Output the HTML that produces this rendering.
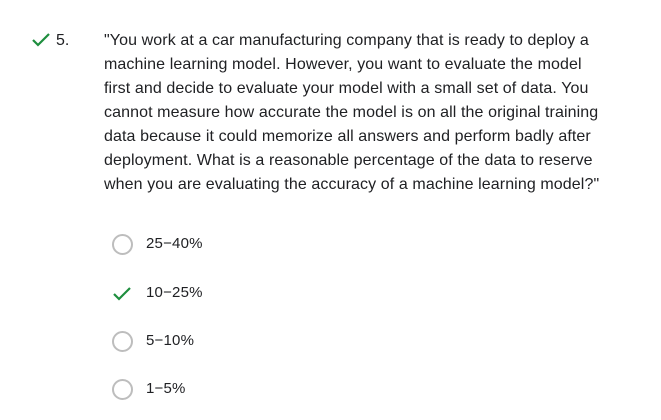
<!DOCTYPE html>
<html><head><meta charset="utf-8"><style>
body{margin:0;width:661px;height:420px;background:#fff;font-family:"Liberation Sans",Arial,sans-serif;color:#202124;position:relative;overflow:hidden}
.q{position:absolute;left:104px;top:29px;white-space:nowrap;font-size:16px;line-height:24px;letter-spacing:0.1px}
.num{position:absolute;left:56px;top:29px;font-size:16px;line-height:24px}
.chk{position:absolute}
.opt{position:absolute;left:146px;font-size:15px;line-height:20px;letter-spacing:0.2px}
.rad{position:absolute;left:112px;width:17px;height:17px;border:2px solid #bdbdbd;border-radius:50%}
</style></head><body>
<svg class="chk" style="left:31px;top:32px" width="20" height="16" viewBox="0 0 20 16"><path d="M2 8 L7 13 L18 2" stroke="#1e8e3e" stroke-width="2.2" fill="none"/></svg>
<div class="num">5.</div>
<div class="q">"You work at a car manufacturing company that is ready to deploy a<br>machine learning model. However, you want to evaluate the model<br>first and decide to evaluate your model with a small set of data. You<br>cannot measure how accurate the model is on all the original training<br>data because it could memorize all answers and perform badly after<br>deployment. What is a reasonable percentage of the data to reserve<br>when you are evaluating the accuracy of a machine learning model?"</div>
<div class="rad" style="top:234px"></div>
<div class="opt" style="top:234px">25−40%</div>
<svg class="chk" style="left:112px;top:286px" width="20" height="16" viewBox="0 0 20 16"><path d="M2 8 L7 13 L18 2" stroke="#1e8e3e" stroke-width="2.2" fill="none"/></svg>
<div class="opt" style="top:283px">10−25%</div>
<div class="rad" style="top:331px"></div>
<div class="opt" style="top:331px">5−10%</div>
<div class="rad" style="top:379px"></div>
<div class="opt" style="top:379px">1−5%</div>
</body></html>
